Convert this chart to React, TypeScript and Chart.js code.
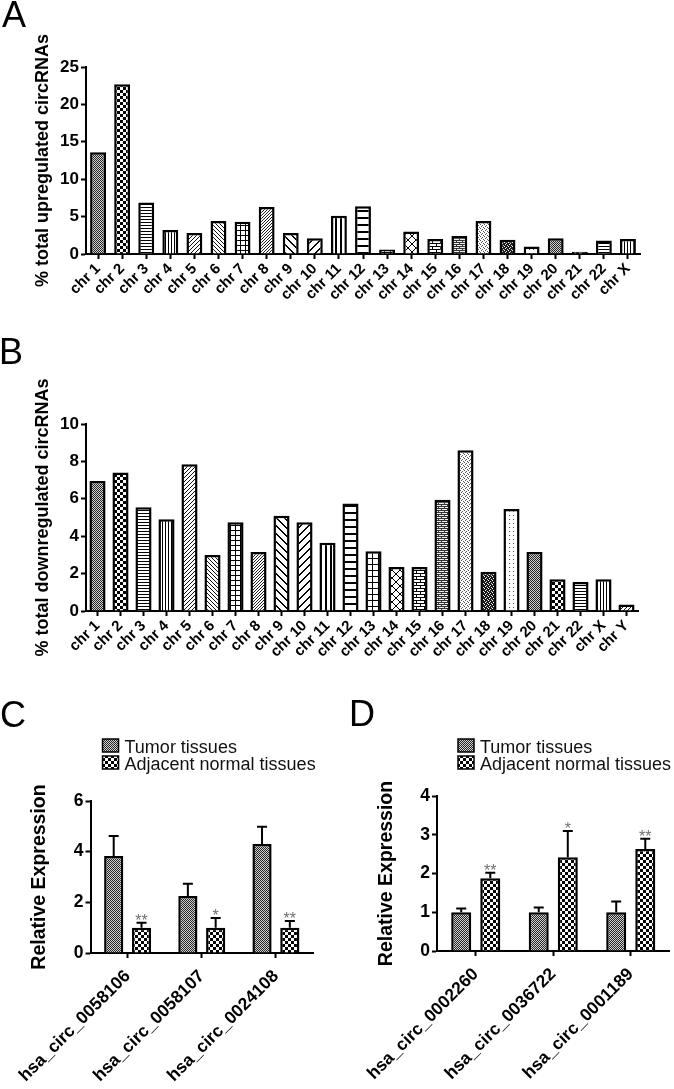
import React, { useEffect, useRef } from "react";
import { Chart, registerables } from "chart.js";

Chart.register(...registerables);

const FONT = "'Liberation Sans', Arial, Helvetica, sans-serif";

// ---------- Panel A data ----------
const upLabels = ["chr 1", "chr 2", "chr 3", "chr 4", "chr 5", "chr 6", "chr 7", "chr 8", "chr 9", "chr 10", "chr 11", "chr 12", "chr 13", "chr 14", "chr 15", "chr 16", "chr 17", "chr 18", "chr 19", "chr 20", "chr 21", "chr 22", "chr X"];
const upValues = [13.6, 22.7, 6.9, 3.2, 2.8, 4.4, 4.3, 6.3, 2.8, 2.1, 5.1, 6.4, 0.6, 3.0, 2.0, 2.4, 4.4, 1.9, 1.0, 2.1, 0.3, 1.8, 2.0];
const upTicks = [0, 5, 10, 15, 20, 25];
const upTitle = "% total upregulated circRNAs";

// ---------- Panel B data ----------
const downLabels = ["chr 1", "chr 2", "chr 3", "chr 4", "chr 5", "chr 6", "chr 7", "chr 8", "chr 9", "chr 10", "chr 11", "chr 12", "chr 13", "chr 14", "chr 15", "chr 16", "chr 17", "chr 18", "chr 19", "chr 20", "chr 21", "chr 22", "chr X", "chr Y"];
const downValues = [6.95, 7.4, 5.55, 4.9, 7.85, 3.0, 4.75, 3.15, 5.1, 4.75, 3.65, 5.75, 3.2, 2.35, 2.35, 5.95, 8.6, 2.1, 5.45, 3.15, 1.7, 1.55, 1.7, 0.35];
const downTicks = [0, 2, 4, 6, 8, 10];
const downTitle = "% total downregulated circRNAs";

// ---------- Panel C data ----------
const seriesNames = ["Tumor tissues", "Adjacent normal tissues"];
const cLabels = ["hsa_circ_0058106", "hsa_circ_0058107", "hsa_circ_0024108"];
const cTumor = [3.83, 2.25, 4.3];
const cTumorErr = [0.79, 0.48, 0.68];
const cNormal = [1.0, 1.0, 1.0];
const cNormalErr = [0.19, 0.38, 0.26];
const cStars = ["**", "*", "**"];
const cTicks = [0, 2, 4, 6];

// ---------- Panel D data ----------
const dLabels = ["hsa_circ_0002260", "hsa_circ_0036722", "hsa_circ_0001189"];
const dTumor = [1.0, 1.0, 1.0];
const dTumorErr = [0.1, 0.12, 0.28];
const dNormal = [1.88, 2.42, 2.63];
const dNormalErr = [0.14, 0.68, 0.27];
const dStars = ["**", "*", "**"];
const dTicks = [0, 1, 2, 3, 4];
const exprTitle = "Relative Expression";

// ---------- styles ----------
const chrPatterns = ["fine", "checker", "hlines", "vlines", "diag", "diagBack", "grid", "diag2", "diagWideBack", "diagWide", "vlinesWide", "hlinesWide", "gridWide", "cross", "brick", "brickSmall", "stipple", "darkDots", "dots", "fine", "checker", "hlines", "vlines", "diag"];
const seriesPatterns = ["fine", "checker"];

function tile(w: number, h: number, bg: string, draw: (px: (x: number, y: number, c?: string) => void, ctx: CanvasRenderingContext2D) => void) {
  const c = document.createElement("canvas");
  c.width = w;
  c.height = h;
  const ctx = c.getContext("2d")!;
  ctx.fillStyle = bg;
  ctx.fillRect(0, 0, w, h);
  const px = (x: number, y: number, col = "#000") => {
    ctx.fillStyle = col;
    ctx.fillRect(((x % w) + w) % w, ((y % h) + h) % h, 1, 1);
  };
  draw(px, ctx);
  return ctx.createPattern(c, "repeat")!;
}

function makePattern(kind: string): CanvasPattern {
  switch (kind) {
    case "fine":
      return tile(2, 2, "#d0d0d0", (px) => { px(0, 0, "#262626"); px(1, 1, "#262626"); });
    case "checker":
      return tile(6, 6, "#fff", (_p, ctx) => { ctx.fillStyle = "#000"; ctx.fillRect(0, 0, 3, 3); ctx.fillRect(3, 3, 3, 3); });
    case "hlines":
      return tile(1, 3, "#fff", (px) => px(0, 0));
    case "vlines":
      return tile(3, 1, "#fff", (px) => px(0, 0));
    case "diag":
      return tile(4, 4, "#fff", (px) => { for (let i = 0; i < 4; i++) px(i, 3 - i, "#111"); });
    case "diag2":
      return tile(3, 3, "#fff", (px) => { for (let i = 0; i < 3; i++) px(i, 2 - i, "#222"); });
    case "diagBack":
      return tile(4, 4, "#fff", (px) => { for (let i = 0; i < 4; i++) px(i, i, "#111"); });
    case "diagWide":
      return tile(8, 8, "#fff", (px) => { for (let i = 0; i < 8; i++) { px(i, 7 - i); px(i + 1, 7 - i); } });
    case "diagWideBack":
      return tile(8, 8, "#fff", (px) => { for (let i = 0; i < 8; i++) { px(i, i); px(i + 1, i); } });
    case "grid":
      return tile(5, 5, "#fff", (px) => { for (let i = 0; i < 5; i++) { px(i, 0); px(0, i); } });
    case "gridWide":
      return tile(6, 6, "#fff", (px) => { for (let i = 0; i < 6; i++) { px(i, 0); px(0, i); } });
    case "vlinesWide":
      return tile(5, 1, "#fff", (px) => { px(0, 0); px(1, 0); });
    case "hlinesWide":
      return tile(1, 7, "#fff", (px) => { px(0, 0); px(0, 1); });
    case "cross":
      return tile(8, 8, "#fff", (px) => { for (let i = 0; i < 8; i++) { px(i, i); px(i, 7 - i); } });
    case "brick":
      return tile(8, 6, "#fff", (px) => {
        for (let i = 0; i < 8; i++) { px(i, 0); px(i, 3); }
        px(0, 1); px(0, 2); px(4, 4); px(4, 5);
      });
    case "brickSmall":
      return tile(6, 4, "#eee", (px) => {
        for (let i = 0; i < 6; i++) { px(i, 0, "#333"); px(i, 2, "#333"); }
        px(0, 1, "#333"); px(3, 3, "#333");
      });
    case "stipple":
      return tile(4, 4, "#fff", (px) => { px(0, 0, "#555"); px(2, 1, "#555"); px(1, 2, "#555"); px(3, 3, "#555"); });
    case "darkDots":
      return tile(4, 4, "#1a1a1a", (px) => { px(1, 0, "#fff"); px(3, 1, "#ddd"); px(0, 2, "#fff"); px(2, 3, "#ddd"); });
    case "dots":
      return tile(4, 4, "#fff", (px) => px(1, 1, "#444"));
    default:
      return tile(1, 1, "#fff", () => {});
  }
}

// ---------- plugins ----------
const errorBarPlugin = {
  id: "errorBars",
  afterDatasetsDraw(chart: any) {
    const ctx = chart.ctx;
    const y = chart.scales.y;
    chart.data.datasets.forEach((ds: any, di: number) => {
      if (!ds.errors) return;
      const meta = chart.getDatasetMeta(di);
      meta.data.forEach((el: any, i: number) => {
        const v = ds.data[i];
        const e = ds.errors[i];
        const y0 = y.getPixelForValue(v);
        const y1 = y.getPixelForValue(v + e);
        ctx.save();
        ctx.strokeStyle = "#000";
        ctx.lineWidth = 2;
        ctx.beginPath();
        ctx.moveTo(el.x, y0);
        ctx.lineTo(el.x, y1);
        ctx.moveTo(el.x - 5, y1);
        ctx.lineTo(el.x + 5, y1);
        ctx.stroke();
        if (ds.stars && ds.stars[i]) {
          ctx.fillStyle = "#707070";
          ctx.font = `16px ${FONT}`;
          ctx.textAlign = "center";
          ctx.textBaseline = "alphabetic";
          ctx.fillText(ds.stars[i], el.x, y1 + 3);
        }
        ctx.restore();
      });
    });
  },
};

const swatchLegendPlugin = {
  id: "swatchLegend",
  afterDraw(chart: any, _args: any, opts: any) {
    if (!opts || !opts.show) return;
    const ctx = chart.ctx;
    const left = chart.chartArea.left + opts.dx;
    const top = chart.chartArea.top + opts.dy;
    chart.data.datasets.forEach((ds: any, i: number) => {
      const yy = top + i * opts.row;
      ctx.save();
      ctx.fillStyle = ds.backgroundColor;
      ctx.fillRect(left, yy, 16, 13);
      ctx.strokeStyle = "#000";
      ctx.lineWidth = 1.5;
      ctx.strokeRect(left, yy, 16, 13);
      ctx.fillStyle = "#111";
      ctx.font = `18px ${FONT}`;
      ctx.textAlign = "left";
      ctx.textBaseline = "alphabetic";
      ctx.fillText(ds.label, left + 22, yy + 14);
      ctx.restore();
    });
  },
};

// ---------- scale builders ----------
function yScale(ticks: number[], title: string, titleSize: number, titlePad: number, tickSize: number, width: number) {
  return {
    type: "linear",
    min: ticks[0],
    max: ticks[ticks.length - 1],
    afterBuildTicks: (s: any) => { s.ticks = ticks.map((v) => ({ value: v })); },
    afterFit: (s: any) => { s.width = width; },
    border: { display: true, color: "#000", width: 2 },
    grid: { display: true, drawOnChartArea: false, drawTicks: true, tickLength: 5, tickWidth: 2, tickColor: "#000" },
    ticks: { color: "#000", font: { family: FONT, size: tickSize, weight: "bold" }, padding: 2 },
    title: { display: true, text: title, color: "#000", font: { family: FONT, size: titleSize, weight: "bold" }, padding: { top: titlePad, bottom: 0 } },
  };
}

function xScale(height: number, fontSize: number, pad: number) {
  return {
    type: "category",
    offset: true,
    afterFit: (s: any) => { s.height = height; },
    border: { display: true, color: "#000", width: 2 },
    grid: { display: true, offset: false, drawOnChartArea: false, tickLength: 5, tickWidth: 2, tickColor: "#000" },
    ticks: { color: "#000", font: { family: FONT, size: fontSize, weight: "bold" }, minRotation: 45, maxRotation: 45, autoSkip: false, padding: pad },
  };
}

function baseOptions(padding: any, scales: any, legendOpts: any) {
  return {
    responsive: false,
    animation: false,
    devicePixelRatio: 1,
    layout: { padding },
    scales,
    plugins: { legend: { display: false }, tooltip: { enabled: false }, swatchLegend: legendOpts },
  };
}

function chrConfig(labels: string[], values: number[], ticks: number[], title: string, pad: any, xH: number, barPct: number) {
  return {
    type: "bar",
    data: {
      labels,
      datasets: [{
        label: title,
        data: values,
        backgroundColor: labels.map((_, i) => makePattern(chrPatterns[i])),
        borderColor: "#000",
        borderWidth: 2.5,
        categoryPercentage: 1,
        barPercentage: barPct,
      }],
    },
    options: baseOptions(pad, { x: xScale(xH, 15, 1), y: yScale(ticks, title, 18, 32, 17, 86) }, { show: false }),
    plugins: [errorBarPlugin, swatchLegendPlugin],
  };
}

function exprConfig(labels: string[], tumor: number[], tumorErr: number[], normal: number[], normalErr: number[], stars: string[], ticks: number[], pad: any, xH: number, yW: number, titlePad: number, legend: any) {
  return {
    type: "bar",
    data: {
      labels,
      datasets: [
        { label: seriesNames[0], data: tumor, errors: tumorErr, backgroundColor: makePattern(seriesPatterns[0]), borderColor: "#000", borderWidth: 2.5, categoryPercentage: 0.75, barPercentage: 0.69 },
        { label: seriesNames[1], data: normal, errors: normalErr, stars, backgroundColor: makePattern(seriesPatterns[1]), borderColor: "#000", borderWidth: 2.5, categoryPercentage: 0.75, barPercentage: 0.69 },
      ],
    },
    options: baseOptions(pad, { x: xScale(xH, 17.5, 8), y: yScale(ticks, exprTitle, 19.5, titlePad, 17.5, yW) }, legend),
    plugins: [errorBarPlugin, swatchLegendPlugin],
  };
}

function ChartCanvas({ make, left, top, width, height }: { make: () => any; left: number; top: number; width: number; height: number }) {
  const ref = useRef<HTMLCanvasElement>(null);
  useEffect(() => {
    Chart.defaults.font.family = FONT;
    const chart = new Chart(ref.current!, make());
    return () => chart.destroy();
  }, []);
  return (
    <canvas
      ref={ref}
      width={width}
      height={height}
      style={{ position: "absolute", left, top, width, height }}
    />
  );
}

const letterStyle: React.CSSProperties = {
  position: "absolute",
  fontFamily: FONT,
  fontSize: 36,
  lineHeight: "36px",
  color: "#000",
};

export default function App() {
  return (
    <div style={{ position: "absolute", left: 0, top: 0, width: 674, height: 1089, background: "#fff", overflow: "hidden" }}>
      <ChartCanvas
        left={0} top={0} width={674} height={310}
        make={() => chrConfig(upLabels, upValues, upTicks, upTitle, { top: 67, left: 0, right: 34, bottom: 0 }, 56, 0.66)}
      />
      <ChartCanvas
        left={0} top={330} width={674} height={340}
        make={() => chrConfig(downLabels, downValues, downTicks, downTitle, { top: 94, left: 0, right: 36, bottom: 0 }, 59, 0.7)}
      />
      <ChartCanvas
        left={0} top={680} width={337} height={409}
        make={() => exprConfig(cLabels, cTumor, cTumorErr, cNormal, cNormalErr, cStars, cTicks, { top: 121, left: 0, right: 24, bottom: 0 }, 136, 86, 23, { show: true, dx: 12, dy: -62, row: 17 })}
      />
      <ChartCanvas
        left={337} top={680} width={337} height={409}
        make={() => exprConfig(dLabels, dTumor, dTumorErr, dNormal, dNormalErr, dStars, dTicks, { top: 116, left: 0, right: 4.5, bottom: 0 }, 138, 100, 37.6, { show: true, dx: 21, dy: -57, row: 17 })}
      />
      <div style={{ ...letterStyle, left: 2, top: -3 }}>A</div>
      <div style={{ ...letterStyle, left: -1, top: 334 }}>B</div>
      <div style={{ ...letterStyle, left: 0, top: 697 }}>C</div>
      <div style={{ ...letterStyle, left: 349, top: 696 }}>D</div>
    </div>
  );
}
